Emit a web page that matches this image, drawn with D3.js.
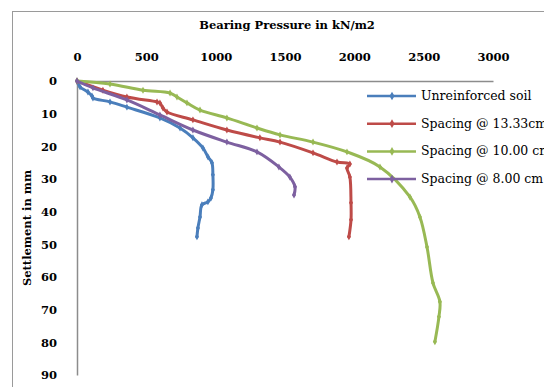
<!DOCTYPE html>
<html lang="en">
<head>
    <meta charset="UTF-8">
    <title>Bearing Pressure vs Settlement</title>
    <script src="https://d3js.org/d3.v7.min.js"></script>
    <style>
        body { margin: 0; background: #fff; }
        text { font-family: "DejaVu Serif", serif; fill: #000; }
    </style>
</head>
<body>
    <svg width="544" height="387"></svg>
    <script>
        // Data: [bearing pressure kN/m2, settlement mm]
        const unreinforced = [
            [0, 0], [22, 1.8], [79, 3.4], [108, 4.6], [115, 5.2], [238, 6.4], [360, 8.0],
            [598, 11.3], [743, 14.4], [836, 17.4], [908, 20.5], [944, 23.2], [973, 25],
            [980, 28.7], [980, 33.3], [966, 35.8], [944, 37], [901, 37.9], [887, 41.6],
            [872, 45], [865, 47.7]
        ];
        const spacing1333 = [
            [0, 0], [187, 2.8], [360, 4.9], [577, 6.4], [598, 6.7], [620, 8.3], [649, 9.5],
            [836, 11.9], [1081, 15], [1319, 17.4], [1464, 18.7], [1702, 22], [1875, 24.8],
            [1968, 25.4], [1947, 26.6], [1968, 29.4], [1976, 37.3], [1976, 42.5], [1961, 47.7]
        ];
        const spacing1000 = [
            [0, 0], [238, 0.9], [476, 2.8], [671, 3.7], [721, 4.9], [793, 6.7], [887, 8.9],
            [1081, 11.3], [1298, 14.4], [1464, 16.5], [1702, 18.7], [1947, 21.7], [2185, 26.3],
            [2401, 35.5], [2473, 41.6], [2524, 50.8], [2567, 61.8], [2617, 67.6], [2610, 72.2],
            [2581, 79.8]
        ];
        const spacing800 = [
            [0, 0], [115, 2.1], [360, 5.8], [598, 10.4], [836, 15], [1081, 18.7], [1298, 21.7],
            [1456, 26.3], [1535, 29.4], [1572, 32.4], [1565, 34.9]
        ];

        const seriesNames = ["Unreinforced soil", "Spacing @ 13.33cm", "Spacing @ 10.00 cm", "Spacing @ 8.00 cm"];
        const seriesData = [unreinforced, spacing1333, spacing1000, spacing800];
        const seriesColors = ["#4a7ebb", "#be4b48", "#98b954", "#7d60a0"];

        const xTicks = [0, 500, 1000, 1500, 2000, 2500, 3000];
        const yTicks = [0, 10, 20, 30, 40, 50, 60, 70, 80, 90];

        const svg = d3.select("svg");

        // outer chart border
        svg.append("rect")
            .attr("x", 12.5).attr("y", 11.5)
            .attr("width", 600).attr("height", 400)
            .attr("fill", "none")
            .attr("stroke", "#9a9a9a");

        const x = d3.scaleLinear().domain([0, 3000]).range([77, 493]);
        const y = d3.scaleLinear().domain([0, 90]).range([81, 375]);

        // x axis on top
        const xAxis = svg.append("g")
            .attr("transform", `translate(0,${y(0)})`)
            .call(d3.axisTop(x).tickValues(xTicks).tickFormat(d3.format("d"))
                .tickSize(0).tickSizeOuter(0).tickPadding(20));
        xAxis.select(".domain").attr("stroke", "#8c8c8c").attr("stroke-width", 1.5);
        xAxis.selectAll("text")
            .style("font-family", "DejaVu Serif, serif")
            .style("font-size", "11.5px")
            .style("font-weight", "bold");

        const yAxis = svg.append("g")
            .attr("transform", `translate(${x(0)},0)`)
            .call(d3.axisLeft(y).tickValues(yTicks).tickFormat(d3.format("d"))
                .tickSize(0).tickSizeOuter(0).tickPadding(20));
        yAxis.select(".domain").attr("stroke", "#8c8c8c").attr("stroke-width", 1.5);
        yAxis.selectAll("text")
            .style("font-family", "DejaVu Serif, serif")
            .style("font-size", "11.5px")
            .style("font-weight", "bold");

        // titles
        svg.append("text")
            .attr("x", 287).attr("y", 29)
            .attr("text-anchor", "middle")
            .style("font-size", "11.5px")
            .style("font-weight", "bold")
            .text("Bearing Pressure in kN/m2");

        svg.append("text")
            .attr("transform", "translate(31,228) rotate(-90)")
            .attr("text-anchor", "middle")
            .style("font-size", "11.5px")
            .style("font-weight", "bold")
            .text("Settlement in mm");

        // series lines
        const line = d3.line()
            .x(d => x(d[0]))
            .y(d => y(d[1]))
            .curve(d3.curveCatmullRom);

        const diamond = d3.symbol().type(d3.symbolDiamond).size(14);

        seriesData.forEach((data, i) => {
            svg.append("path")
                .datum(data)
                .attr("fill", "none")
                .attr("stroke", seriesColors[i])
                .attr("stroke-width", 3)
                .attr("stroke-linejoin", "round")
                .attr("stroke-linecap", "round")
                .attr("d", line);

            svg.append("g").selectAll("path")
                .data(data)
                .join("path")
                .attr("transform", d => `translate(${x(d[0])},${y(d[1])})`)
                .attr("d", diamond)
                .attr("fill", seriesColors[i]);
        });

        // legend
        const legend = svg.append("g");
        seriesNames.forEach((name, i) => {
            const ly = 96 + i * 27.7;
            legend.append("line")
                .attr("x1", 367).attr("x2", 416)
                .attr("y1", ly).attr("y2", ly)
                .attr("stroke", seriesColors[i])
                .attr("stroke-width", 2.5);
            legend.append("path")
                .attr("transform", `translate(392,${ly})`)
                .attr("d", d3.symbol().type(d3.symbolDiamond).size(22))
                .attr("fill", seriesColors[i]);
            legend.append("text")
                .attr("x", 421).attr("y", ly + 4)
                .style("font-size", "12.5px")
                .text(name);
        });
    </script>
</body>
</html>
